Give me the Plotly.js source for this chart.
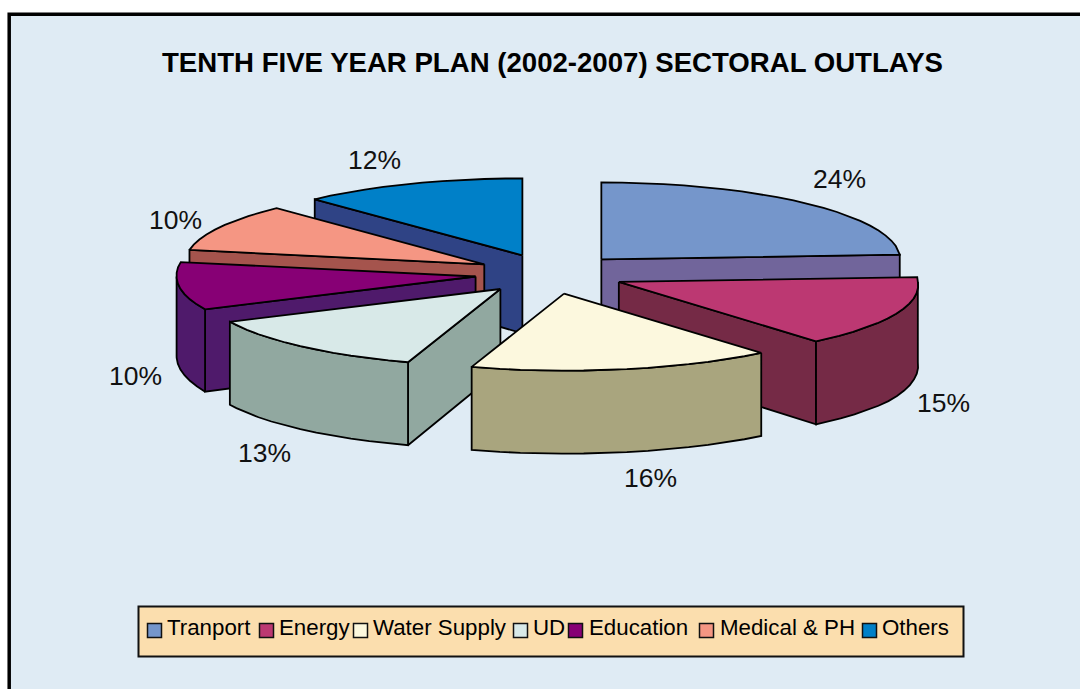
<!DOCTYPE html>
<html>
<head>
<meta charset="utf-8">
<script src="https://cdn.plot.ly/plotly-3.0.1.min.js"></script>
<style>html,body{margin:0;padding:0;background:#fff;overflow:hidden}#chart{width:1080px;height:689px}</style>
</head>
<body>
<div id="chart"></div>
<script>
const chartTitle = 'TENTH FIVE YEAR PLAN (2002-2007) SECTORAL OUTLAYS';
const categories = ['Tranport', 'Energy', 'Water Supply', 'UD', 'Education', 'Medical & PH', 'Others'];
const shares = [24, 15, 16, 13, 10, 10, 12];
const topColors = ['#7596cb', '#bc3872', '#fcf8de', '#d8e9e8', '#870075', '#f59683', '#0080c8'];
const sideColors = ['#71659b', '#752a46', '#a9a57e', '#91a8a0', '#4f1a6b', '#a5544d', '#2f4385'];

// Layout of the drawing (page pixels on hidden axes)
const centre = {x: 550, y: 274}, radius = {x: 299, y: 77}, explode = {x: 75, y: 20};
const depth = y => Math.min(83, 57 + 0.082 * y);
const rad = d => d * Math.PI / 180;
// Slight perspective widening of the chart's front-right and back-left quadrants
const widen = a => {
  const s = Math.sin(rad(a)), c = Math.cos(rad(a));
  if (s > 0 && c < 0) return 1 - 0.045 * c;
  if (s < 0 && c > 0) return 1 + 0.02 * c;
  return 1;
};
const rim = (apex, a) => ({x: apex.x + radius.x * widen(a) * Math.sin(rad(a)), y: apex.y - radius.y * Math.cos(rad(a))});
const drop = p => ({x: p.x, y: p.y + depth(p.y)});
const lineStyle = {color: '#000', width: 1.8};

function face(pts, color) {
  return {type: 'scatter', mode: 'lines', x: pts.map(p => p.x).concat(pts[0].x), y: pts.map(p => p.y).concat(pts[0].y),
    fill: 'toself', fillcolor: color, line: lineStyle, hoverinfo: 'skip', showlegend: false};
}
function arcAngles(a0, a1) {
  const out = [];
  for (let a = a0; a < a1; a += 4) out.push(a);
  out.push(a1);
  return out;
}

// Slice start/end angles come from the shares
const total = shares.reduce((s, v) => s + v, 0);
let run = 0;
const slices = shares.map((v, i) => {
  const a0 = run / total * 360; run += v; const a1 = run / total * 360;
  const mid = rad((a0 + a1) / 2);
  return {i, a0, a1, apex: {x: centre.x + explode.x * Math.sin(mid), y: centre.y - explode.y * Math.cos(mid)}};
});

// Painter's order: back slices first, front slice last
const paintOrder = [6, 0, 5, 4, 3, 1, 2];
const traces = [];
paintOrder.forEach(k => {
  const s = slices[k], side = sideColors[k], apex = s.apex;
  [[s.a0, -1], [s.a1, 1]].forEach(([a, sgn]) => {
    if (sgn * Math.sin(rad(a)) > 1e-6) {
      const r = rim(apex, a);
      traces.push(face([apex, r, drop(r), drop(apex)], side));
    }
  });
  const f0 = Math.max(s.a0, 90), f1 = Math.min(s.a1, 270);
  if (f1 > f0) {
    const top = arcAngles(f0, f1).map(a => rim(apex, a));
    traces.push(face(top.concat(top.map(drop).reverse()), side));
  }
  traces.push(face([apex].concat(arcAngles(s.a0, s.a1).map(a => rim(apex, a))), topColors[k]));
});

// Legend swatches
const swatchX = [154.5, 266.5, 360.5, 520.5, 575.5, 706.5, 869.5];
const legendTextX = [166, 278, 372, 532, 588, 719, 881];
const legendMidY = 630.5;
traces.push({type: 'scatter', mode: 'markers', x: swatchX, y: categories.map(() => legendMidY),
  marker: {symbol: 'square', size: 14, color: topColors, line: {color: '#111', width: 1.5}},
  hoverinfo: 'skip', showlegend: false, cliponaxis: false});

const labelPos = [[839, 179], [943, 403], [650, 478], [264, 453], [135, 376], [175, 220], [374, 160]];
const annotations = shares.map((v, i) => ({
  x: labelPos[i][0], y: labelPos[i][1], xref: 'x', yref: 'y', text: v + '%', showarrow: false,
  xanchor: 'center', yanchor: 'middle', font: {family: '"Liberation Sans", Arial, sans-serif', size: 26.5, color: '#111'}
}));
categories.forEach((c, i) => annotations.push({
  x: legendTextX[i], y: 627.5, xref: 'x', yref: 'y', text: c.replace('&', '&amp;'), showarrow: false,
  xanchor: 'left', yanchor: 'middle', xshift: -1.5, font: {family: '"Liberation Sans", Arial, sans-serif', size: 22.3, color: '#000'}
}));
annotations.push({
  x: 552, y: 62, xref: 'x', yref: 'y', text: '<b>' + chartTitle + '</b>', showarrow: false,
  xanchor: 'center', yanchor: 'middle', font: {family: '"Liberation Sans", Arial, sans-serif', size: 27.6, color: '#000'}
});

const hidden = {visible: false, fixedrange: true, showgrid: false, zeroline: false};
const layout = {
  width: 1080, height: 689, margin: {l: 0, r: 0, t: 0, b: 0},
  paper_bgcolor: '#fff', plot_bgcolor: 'rgba(0,0,0,0)', showlegend: false,
  xaxis: Object.assign({range: [0, 1080]}, hidden),
  yaxis: Object.assign({range: [689, 0]}, hidden),
  shapes: [
    {type: 'rect', layer: 'below', xref: 'x', yref: 'y', x0: 9.2, y0: 14.2, x1: 1090, y1: 700, fillcolor: '#dfebf4', line: {color: '#000', width: 3.5}},
    {type: 'rect', layer: 'below', xref: 'x', yref: 'y', x0: 138.5, y0: 606.5, x1: 963.5, y1: 656.5, fillcolor: '#fbdeae', line: {color: '#111', width: 2}}
  ],
  annotations
};
Plotly.newPlot('chart', traces, layout, {displayModeBar: false, staticPlot: true});
</script>
</body>
</html>
